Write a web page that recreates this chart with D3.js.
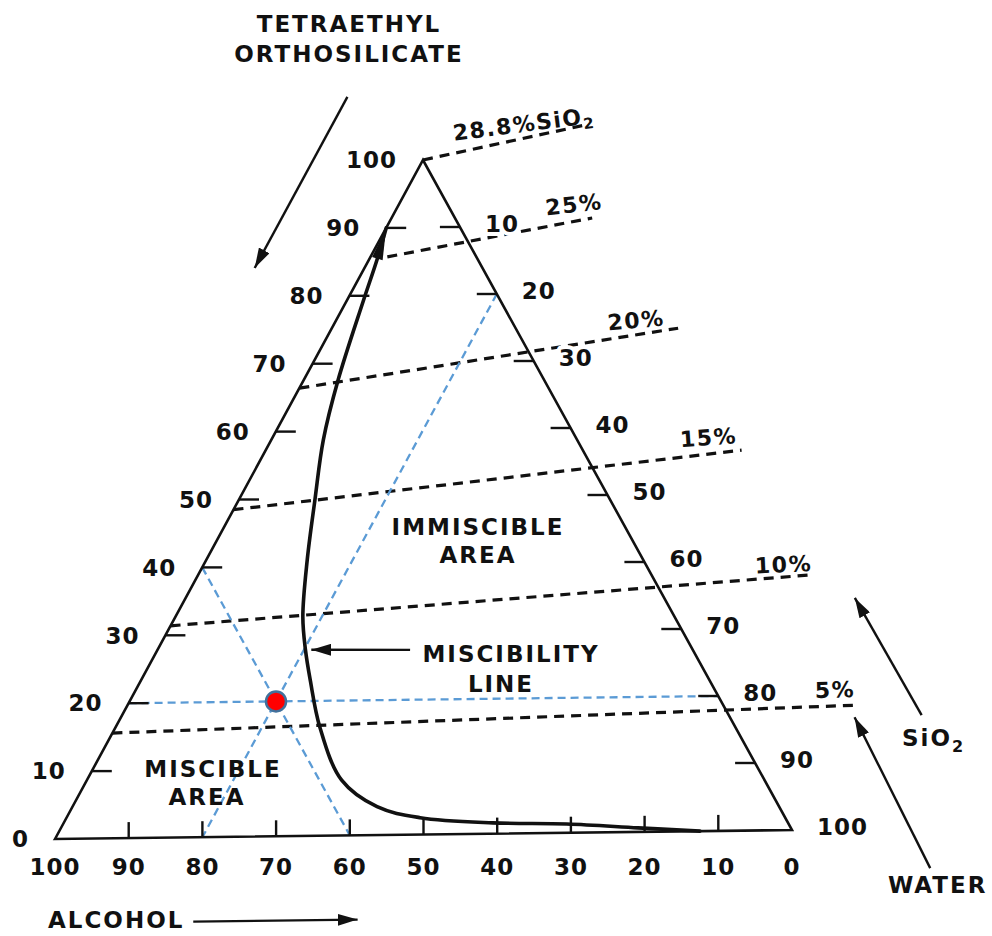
<!DOCTYPE html>
<html>
<head>
<meta charset="utf-8">
<script src="https://cdn.jsdelivr.net/npm/d3@7"></script>
<style>
  html, body { margin: 0; padding: 0; background: #fff; }
  svg { display: block; }
  text { font-family: "DejaVu Sans", "Liberation Sans", sans-serif; font-weight: bold; fill: #111; }
</style>
</head>
<body>
<svg id="chart" width="992" height="936"></svg>
<script>
// ---- data -------------------------------------------------------------
// Tick positions along each edge (percent)
const tickValues = [10, 20, 30, 40, 50, 60, 70, 80, 90];
const teosTickLabels = ["0", "10", "20", "30", "40", "50", "60", "70", "80", "90", "100"];
const alcoholTickLabels = ["100", "90", "80", "70", "60", "50", "40", "30", "20", "10", "0"];
const waterTickLabels = ["10", "20", "30", "40", "50", "60", "70", "80", "90", "100"];

// Miscibility line: TEOS % and water % (alcohol = remainder)
const missTeos  = [90, 85.3, 79.1, 67.5, 58.7, 49.8, 40.9, 32.5, 27.6, 23.1, 16.1, 8.2, 4.2, 2.5, 1.6, 1.3, 0.6, 0.0];
const missWater = [0, 1.1, 2.3, 4.7, 7.1, 10.4, 13.8, 17.4, 20.2, 23.1, 27.9, 34.8, 41.6, 48.3, 58.6, 68.8, 78.8, 87.5];

// Lines of constant SiO2 content: start and end compositions (TEOS %, water %)
const sio2Labels     = ["28.8%", "25%", "20%", "15%", "10%", "5%"];
const sio2StartTeos  = [100, 85.7, 66.4, 48.5, 31.4, 15.6];
const sio2StartWater = [0, 2.3, 0, 0, 0, 0];
const sio2EndTeos    = [104.8, 91.1, 74.6, 56.4, 37.8, 18.4];
const sio2EndWater   = [19.2, 27.4, 47.3, 65.0, 83.9, 99.8];

// Example composition marked on the diagram
const sampleTeos = 20, sampleAlcohol = 60, sampleWater = 20;

// ---- layout -----------------------------------------------------------
const svg = d3.select("#chart");
const vLeft = { x: 55, y: 839 }, vTop = { x: 423, y: 160 }, vRight = { x: 792, y: 830 };

// Ternary projection built from two vector-valued linear scales
const teosVec  = d3.scaleLinear().domain([0, 100]).range([[0, 0], [vTop.x - vLeft.x, vTop.y - vLeft.y]]);
const waterVec = d3.scaleLinear().domain([0, 100]).range([[0, 0], [vRight.x - vLeft.x, vRight.y - vLeft.y]]);
function P(t, w) {
  const a = teosVec(t), b = waterVec(w);
  return [vLeft.x + a[0] + b[0], vLeft.y + a[1] + b[1]];
}

const defs = svg.append("defs");
defs.append("marker")
  .attr("id", "head").attr("viewBox", "0 0 20 12")
  .attr("refX", 20).attr("refY", 6)
  .attr("markerWidth", 20).attr("markerHeight", 12)
  .attr("markerUnits", "userSpaceOnUse").attr("orient", "auto")
  .append("path").attr("d", "M0,0 L20,6 L0,12 Z").attr("fill", "#111");

const line = d3.line();

// ---- constant SiO2 lines ----------------------------------------------
const sio2Nudge = [[13, -3], [11, -9], [-13, -3], [-4, -7], [0, -4], [-3, -8]];
const gSio2 = svg.append("g");
sio2Labels.forEach((lab, i) => {
  const a = P(sio2StartTeos[i], sio2StartWater[i]);
  const b = P(sio2EndTeos[i], sio2EndWater[i]);
  gSio2.append("path")
    .attr("d", line([a, b]))
    .attr("fill", "none").attr("stroke", "#111")
    .attr("stroke-width", 3.2).attr("stroke-dasharray", "10,7");
  const ang = Math.atan2(b[1] - a[1], b[0] - a[0]) * 180 / Math.PI * 0.6;
  const tx = b[0] + sio2Nudge[i][0], ty = b[1] + sio2Nudge[i][1];
  const t = gSio2.append("text")
    .attr("x", tx).attr("y", ty)
    .attr("text-anchor", "end")
    .attr("font-size", 22).attr("letter-spacing", 1.5)
    .attr("transform", `rotate(${ang},${tx},${ty})`);
  if (i === 0) {
    t.append("tspan").text(lab + "SiO");
    t.append("tspan").attr("font-size", 15).attr("dy", 5).text("2");
  } else {
    t.text(lab);
  }
});

// ---- guide lines through the sample point -------------------------------
const blue = "#5B9BD5";
const guides = [
  [P(sampleTeos, 0), P(sampleTeos, 100 - sampleTeos)],                 // constant TEOS
  [P(100 - sampleAlcohol, 0), P(0, 100 - sampleAlcohol)],              // constant alcohol
  [P(100 - sampleWater, sampleWater), P(0, sampleWater)]               // constant water
];
svg.append("g").selectAll("path").data(guides).join("path")
  .attr("d", d => line(d))
  .attr("fill", "none").attr("stroke", blue)
  .attr("stroke-width", 2.3).attr("stroke-dasharray", "8,5");

// ---- triangle frame and ticks ------------------------------------------
svg.append("path")
  .attr("d", line([P(0, 0), P(100, 0), P(0, 100)]) + "Z")
  .attr("fill", "none").attr("stroke", "#111")
  .attr("stroke-width", 2.6).attr("stroke-linejoin", "miter");

const gTicks = svg.append("g").attr("stroke", "#111").attr("stroke-width", 2.4);
tickValues.forEach(v => {
  const l = P(v, 0);            // left edge: TEOS = v
  gTicks.append("line").attr("x1", l[0]).attr("y1", l[1]).attr("x2", l[0] + 20).attr("y2", l[1]);
  const r = P(100 - v, v);      // right edge: water = v
  gTicks.append("line").attr("x1", r[0]).attr("y1", r[1]).attr("x2", r[0] - 20).attr("y2", r[1]);
  const b = P(0, v);            // bottom edge
  gTicks.append("line").attr("x1", b[0]).attr("y1", b[1]).attr("x2", b[0]).attr("y2", b[1] - 16);
});

const gLab = svg.append("g").attr("font-size", 23).attr("letter-spacing", 1);
teosTickLabels.forEach((s, i) => {
  const p = P(i * 10, 0);
  gLab.append("text").attr("x", p[0] - 26).attr("y", p[1]).attr("dy", "0.36em")
    .attr("text-anchor", "end").text(s);
});
waterTickLabels.forEach((s, i) => {
  const w = (i + 1) * 10;
  const p = P(100 - w, w);
  gLab.append("text").attr("x", p[0] + 25).attr("y", p[1] - 3).attr("dy", "0.36em")
    .attr("stroke", "#fff").attr("stroke-width", 8).attr("paint-order", "stroke")
    .attr("stroke-linejoin", "round")
    .text(s);
});
alcoholTickLabels.forEach((s, i) => {
  const p = P(0, i * 10);
  gLab.append("text").attr("x", p[0]).attr("y", vLeft.y + 36)
    .attr("text-anchor", "middle").text(s);
});

// ---- miscibility line --------------------------------------------------
const missPts = missTeos.map((t, i) => P(t, missWater[i]));
svg.append("path")
  .attr("d", d3.line().curve(d3.curveCatmullRom.alpha(0.5))(missPts))
  .attr("fill", "none").attr("stroke", "#111")
  .attr("stroke-width", 3.6).attr("stroke-linecap", "round");

// arrowhead at the TEOS-rich end of the miscibility line
{
  const tip = missPts[0], back = missPts[1];
  const dx = tip[0] - back[0], dy = tip[1] - back[1];
  const len = Math.hypot(dx, dy), ux = dx / len, uy = dy / len;
  const L = 32, hw = 5.5;
  const bx = tip[0] - ux * L, by = tip[1] - uy * L;
  svg.append("path")
    .attr("d", line([tip, [bx - uy * hw, by + ux * hw], [bx + uy * hw, by - ux * hw]]) + "Z")
    .attr("fill", "#111");
}

// ---- sample point ------------------------------------------------------
const sp = P(sampleTeos, sampleWater);
svg.append("circle").attr("cx", sp[0]).attr("cy", sp[1]).attr("r", 10)
  .attr("fill", "#ff0000").attr("stroke", "#41719C").attr("stroke-width", 2.5);

// ---- annotation arrows -------------------------------------------------
const arrows = [
  [P(109.5, -15), P(84.3, -15)],     // TEOS direction
  [P(16.8, 109.2), P(34.3, 91.4)],   // increasing SiO2
  [P(-5.9, 121.7), P(16.6, 100.2)],  // decreasing water
  [P(-12.5, 25), P(-12.5, 47.3)],    // decreasing alcohol
  [P(27.4, 34.5), P(27.6, 21.0)]     // pointer to the miscibility line
];
svg.append("g").selectAll("path").data(arrows).join("path")
  .attr("d", d => line(d))
  .attr("fill", "none").attr("stroke", "#111").attr("stroke-width", 2.4)
  .attr("marker-end", "url(#head)");

// ---- text labels -------------------------------------------------------
const gTxt = svg.append("g").attr("font-size", 23).attr("letter-spacing", 2);
function label(txt, x, y, anchor) {
  return gTxt.append("text").attr("x", x).attr("y", y).attr("text-anchor", anchor || "middle").text(txt);
}
label("TETRAETHYL", 349, 32);
label("ORTHOSILICATE", 349, 62);
label("IMMISCIBLE", 478, 535);
label("AREA", 478, 563);
label("MISCIBILITY", 511, 662);
label("LINE", 501, 692);
label("MISCIBLE", 213, 777);
label("AREA", 207, 805);
label("WATER", 888, 893, "start");
label("ALCOHOL", 48, 928, "start");
{
  const t = gTxt.append("text").attr("x", 902).attr("y", 746).attr("text-anchor", "start");
  t.append("tspan").text("SiO");
  t.append("tspan").attr("font-size", 16).attr("dy", 6).text("2");
}
</script>
</body>
</html>
